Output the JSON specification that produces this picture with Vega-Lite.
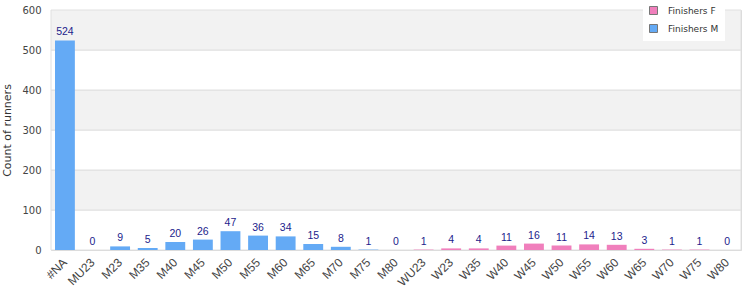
{
  "$schema": "https://vega.github.io/schema/vega-lite/v6.json",
  "width": 690,
  "height": 240,
  "autosize": {"type": "none"},
  "padding": {"left": 51, "top": 10, "right": 9, "bottom": 50},
  "background": "white",
  "config": {
    "view": {"stroke": "#d9d9d9", "strokeWidth": 1},
    "font": "DejaVu Sans",
    "axis": {"labelFont": "DejaVu Sans", "titleFont": "DejaVu Sans", "labelOverlap": false}
  },
  "datasets": {
    "runners": [
      {"category": "#NA", "count": 524, "group": "Finishers M"},
      {"category": "MU23", "count": 0, "group": "Finishers M"},
      {"category": "M23", "count": 9, "group": "Finishers M"},
      {"category": "M35", "count": 5, "group": "Finishers M"},
      {"category": "M40", "count": 20, "group": "Finishers M"},
      {"category": "M45", "count": 26, "group": "Finishers M"},
      {"category": "M50", "count": 47, "group": "Finishers M"},
      {"category": "M55", "count": 36, "group": "Finishers M"},
      {"category": "M60", "count": 34, "group": "Finishers M"},
      {"category": "M65", "count": 15, "group": "Finishers M"},
      {"category": "M70", "count": 8, "group": "Finishers M"},
      {"category": "M75", "count": 1, "group": "Finishers M"},
      {"category": "M80", "count": 0, "group": "Finishers M"},
      {"category": "WU23", "count": 1, "group": "Finishers F"},
      {"category": "W23", "count": 4, "group": "Finishers F"},
      {"category": "W35", "count": 4, "group": "Finishers F"},
      {"category": "W40", "count": 11, "group": "Finishers F"},
      {"category": "W45", "count": 16, "group": "Finishers F"},
      {"category": "W50", "count": 11, "group": "Finishers F"},
      {"category": "W55", "count": 14, "group": "Finishers F"},
      {"category": "W60", "count": 13, "group": "Finishers F"},
      {"category": "W65", "count": 3, "group": "Finishers F"},
      {"category": "W70", "count": 1, "group": "Finishers F"},
      {"category": "W75", "count": 1, "group": "Finishers F"},
      {"category": "W80", "count": 0, "group": "Finishers F"}
    ],
    "bands": [
      {"lo": 0, "hi": 100, "shade": "white"},
      {"lo": 100, "hi": 200, "shade": "grey"},
      {"lo": 200, "hi": 300, "shade": "white"},
      {"lo": 300, "hi": 400, "shade": "grey"},
      {"lo": 400, "hi": 500, "shade": "white"},
      {"lo": 500, "hi": 600, "shade": "grey"}
    ]
  },
  "layer": [
    {
      "data": {"name": "bands"},
      "mark": {"type": "rect", "stroke": "#e0e0e0", "strokeWidth": 1},
      "encoding": {
        "y": {"field": "lo", "type": "quantitative", "scale": {"domain": [0, 600], "nice": false},
              "axis": {"title": "Count of runners", "tickCount": 6, "labelOverlap": false, "labelSeparation": 0, "labelBound": false, "grid": false, "ticks": false, "domain": false, "labelPadding": 10, "labelFontSize": 10, "labelColor": "#444444", "titleFontSize": 11, "titleFontWeight": "normal", "titleColor": "#333333", "titlePadding": 9}},
        "y2": {"field": "hi"},
        "fill": {"field": "shade", "type": "nominal", "scale": {"domain": ["white", "grey"], "range": ["#ffffff", "#f2f2f2"]}, "legend": null}
      }
    },
    {
      "data": {"name": "runners"},
      "layer": [
        {
          "mark": {"type": "bar"},
          "encoding": {
            "x": {
              "field": "category", "type": "nominal", "sort": null,
              "scale": {"paddingInner": 0.28, "paddingOuter": 0.145},
              "axis": {"title": null, "labelAngle": -45, "labelAlign": "right", "labelBaseline": "middle", "labelPadding": 10, "ticks": false, "domain": false, "labelFont": "Liberation Sans", "labelFontSize": 12, "labelColor": "#444444", "labelOverlap": false}
            },
            "y": {
              "field": "count", "type": "quantitative",
              "scale": {"domain": [0, 600], "nice": false}
            },
            "color": {
              "field": "group", "type": "nominal",
              "scale": {"domain": ["Finishers F", "Finishers M"], "range": ["#f07fbc", "#64aaf5"]},
              "legend": {
                "title": null, "orient": "none", "legendX": 592, "legendY": -10,
                "fillColor": "white", "padding": 6, "symbolType": "square", "symbolSize": 64,
                "symbolStrokeColor": "#777777", "symbolStrokeWidth": 1, "labelFont": "DejaVu Sans", "labelFontSize": 9, "labelColor": "#333333", "rowPadding": 5, "labelOffset": 10
              }
            }
          }
        },
        {
          "mark": {"type": "text", "baseline": "alphabetic", "dy": -5, "font": "Liberation Sans", "fontSize": 10.5, "color": "#1c1c8c"},
          "encoding": {
            "x": {"field": "category", "type": "nominal", "sort": null},
            "y": {"field": "count", "type": "quantitative"},
            "text": {"field": "count", "type": "quantitative"}
          }
        }
      ]
    }
  ]
}
